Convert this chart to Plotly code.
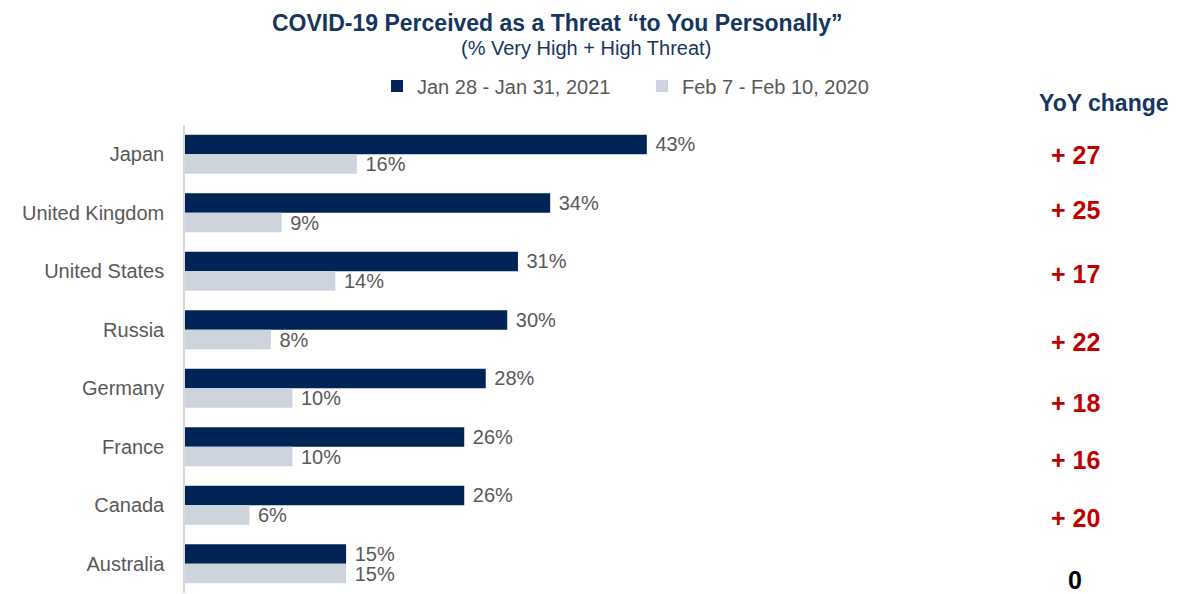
import plotly.graph_objects as go

countries = ["Japan", "United Kingdom", "United States", "Russia", "Germany", "France", "Canada", "Australia"]
jan_2021 = [43, 34, 31, 30, 28, 26, 26, 15]
feb_2020 = [16, 9, 14, 8, 10, 10, 6, 15]
yoy_change = [27, 25, 17, 22, 18, 16, 20, 0]
yoy_pixel_y = [155, 210, 274, 342, 403, 460, 518, 580]

NAVY = "#002456"
LIGHT = "#CDD4DE"
GRAY = "#595959"
TITLE = "#17365F"
FONT = "Liberation Sans, Arial, sans-serif"

# the page places the figure 8px in from the top-left corner
OFF = 8
W, H = 1182 - OFF, 594 - OFF
ML = 185 - OFF
PR = 985 - OFF
MT = 125 - OFF
PB = 593 - OFF
MR = W - PR
MB = H - PB
PW = PR - ML
PH = PB - MT


def px_x(px):
    return (px - OFF - ML) / PW


def px_y(py):
    return 1 - (py - OFF - MT) / PH


fig = go.Figure()
fig.add_trace(go.Bar(
    y=countries, x=jan_2021, orientation="h", name="Jan 28 - Jan 31, 2021",
    marker=dict(color=NAVY, line=dict(width=0)),
    text=[f" {v}%" for v in jan_2021], textposition="outside", constraintext="none",
    textfont=dict(color=GRAY, size=20, family=FONT), cliponaxis=False,
))
fig.add_trace(go.Bar(
    y=countries, x=feb_2020, orientation="h", name="Feb 7 - Feb 10, 2020",
    marker=dict(color=LIGHT, line=dict(width=0)),
    text=[f" {v}%" for v in feb_2020], textposition="outside", constraintext="none",
    textfont=dict(color=GRAY, size=20, family=FONT), cliponaxis=False,
))

annotations = [
    dict(text="<b>COVID-19 Perceived as a Threat “to You Personally”</b>",
         x=px_x(557), y=px_y(23), xref="paper", yref="paper",
         showarrow=False, font=dict(size=23, color=TITLE, family=FONT),
         xanchor="center", yanchor="middle"),
    dict(text="(% Very High + High Threat)",
         x=px_x(586), y=px_y(48), xref="paper", yref="paper",
         showarrow=False, font=dict(size=20, color=TITLE, family=FONT),
         xanchor="center", yanchor="middle"),
    dict(text="<b>YoY change</b>",
         x=px_x(1104), y=px_y(103), xref="paper", yref="paper",
         showarrow=False, font=dict(size=23, color=TITLE, family=FONT),
         xanchor="center", yanchor="middle"),
]
for v, py in zip(yoy_change, yoy_pixel_y):
    txt = f"<b>+ {v}</b>" if v > 0 else f"<b>{v}</b>"
    col = "#C00000" if v > 0 else "#000000"
    annotations.append(dict(
        text=txt, x=px_x(1075), y=px_y(py), xref="paper", yref="paper",
        showarrow=False, font=dict(size=25, color=col, family=FONT),
        xanchor="center", yanchor="middle"))

fig.update_layout(
    width=W, height=H,
    margin=dict(l=ML, r=MR, t=MT, b=MB, pad=0),
    barmode="group", bargap=0.33, bargroupgap=0,
    plot_bgcolor="white", paper_bgcolor="white",
    font=dict(family=FONT, color=GRAY),
    showlegend=True,
    legend=dict(orientation="h", x=px_x(377), y=px_y(86),
                xanchor="left", yanchor="middle",
                font=dict(size=20, color=GRAY, family=FONT),
                itemwidth=30, entrywidth=220, entrywidthmode="pixels",
                bgcolor="rgba(0,0,0,0)"),
    xaxis=dict(range=[0, PW / 10.74], showgrid=False, zeroline=False,
               showticklabels=False, showline=False, fixedrange=True),
    yaxis=dict(autorange="reversed", showgrid=False, zeroline=False,
               showline=True, linecolor="#D9D9D9", linewidth=1.5,
               ticks="", ticklabelstandoff=15,
               tickfont=dict(size=20, color=GRAY, family=FONT)),
    annotations=annotations,
)

fig.write_html("out.html")
